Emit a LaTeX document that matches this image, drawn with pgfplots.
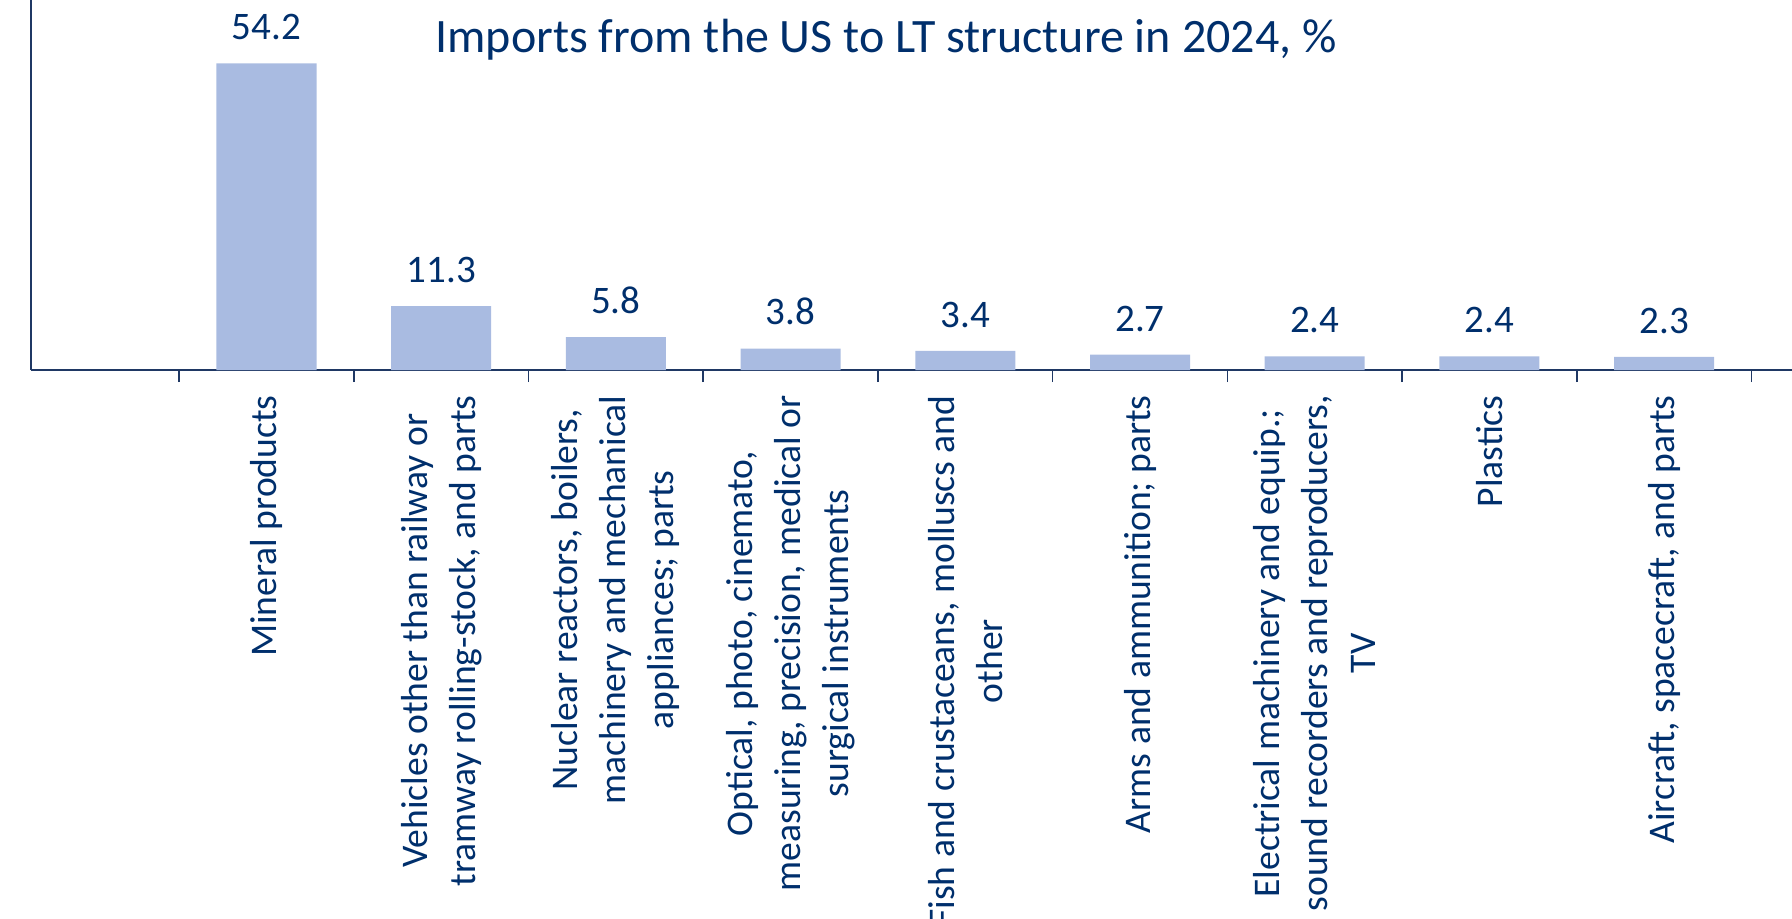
\documentclass[border=0pt]{standalone}
\usepackage{fontspec}
\setmainfont{Carlito}
\usepackage{pgfplots}
\pgfplotsset{compat=1.18}
\definecolor{navy}{RGB}{0,47,108}
\definecolor{axisblue}{RGB}{31,56,100}
\definecolor{barblue}{RGB}{169,187,225}

\begin{document}
\begin{tikzpicture}
\begin{axis}[
  at={(15.5pt,274pt)}, anchor=south west,
  scale only axis, width=880.5pt, height=185pt,
  xmin=-1.348, xmax=8.732, ymin=0, ymax=65.38,
  axis x line*=bottom, axis y line*=left,
  axis line style={axisblue, line width=0.8pt},
  ytick=\empty,
  xtick={0,...,8},
  xticklabels={
    {Mineral products},
    {Vehicles other than railway or\\tramway rolling-stock, and parts},
    {Nuclear reactors, boilers,\\machinery and mechanical\\appliances; parts},
    {Optical, photo, cinemato,\\measuring, precision, medical or\\surgical instruments},
    {Fish and crustaceans,  molluscs and\\other},
    {Arms and ammunition; parts},
    {Electrical machinery and equip.;\\sound recorders and reproducers,\\TV},
    {Plastics},
    {Aircraft, spacecraft, and parts}},
  major tick length=0pt,
  minor xtick={-0.5,0.5,...,8.5},
  minor tick length=6pt,
  tick align=outside,
  tick style={axisblue, line width=0.8pt},
  xticklabel shift=12.5pt,
  xticklabel style={rotate=90, anchor=east, align=center, inner sep=0pt,
    font=\fontsize{18.8pt}{24pt}\selectfont, text=navy},
  ybar, bar width=50pt,
  clip=false,
  /pgf/number format/assume math mode=true,
  nodes near coords={\pgfmathprintnumber[fixed,fixed zerofill,precision=1]{\pgfplotspointmeta}},
  nodes near coords style={font=\fontsize{19.5pt}{23pt}\selectfont, text=navy,
    anchor=south, inner sep=0pt, yshift=11.5pt},
]
\addplot[fill=barblue, draw=none] coordinates {
  (0,54.2)(1,11.3)(2,5.8)(3,3.8)(4,3.4)(5,2.7)(6,2.4)(7,2.4)(8,2.3)
};
\end{axis}
\node[font=\fontsize{24pt}{29pt}\selectfont, text=navy, anchor=base]
  at (443pt,432.5pt) {Imports from the US to LT structure in 2024, \%};
\pgfresetboundingbox
\useasboundingbox (0,0) rectangle (896pt,459pt);
\end{tikzpicture}
\end{document}
